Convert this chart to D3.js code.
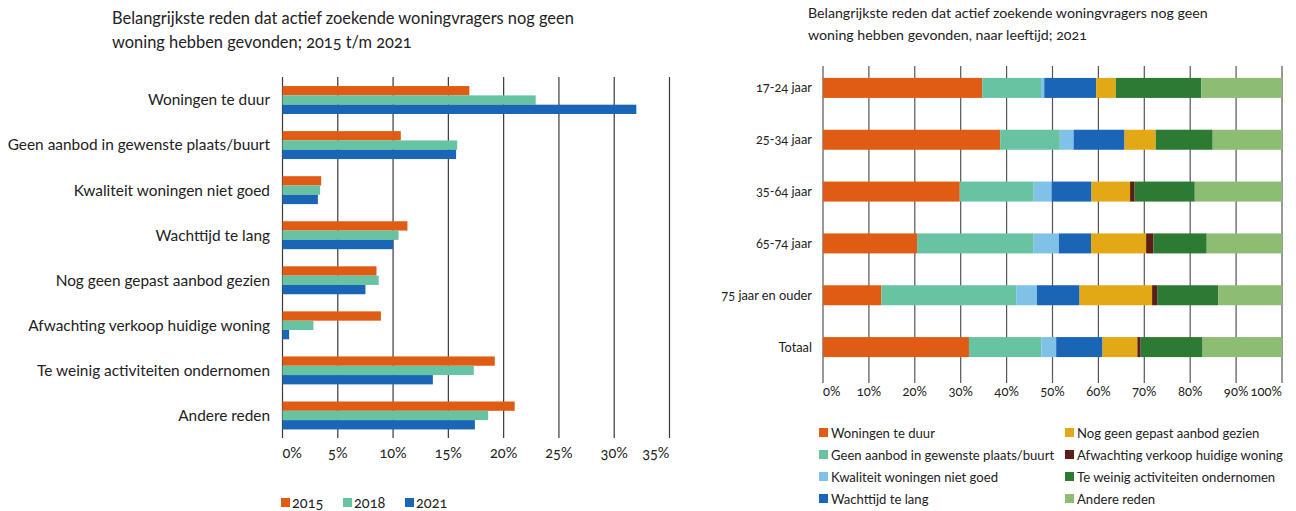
<!DOCTYPE html>
<html>
<head>
<meta charset="utf-8">
<script src="https://cdn.jsdelivr.net/npm/d3@7"></script>
<style>
  body { margin: 0; background: #fff; }
  svg { font-family: Lato, "Noto Sans", sans-serif; fill: #222; font-variant-numeric: oldstyle-nums; }
</style>
</head>
<body>
<svg id="chart" width="1296" height="511"></svg>
<script>
// reasons (same order in both charts)
const reasons = [
  'Woningen te duur',
  'Geen aanbod in gewenste plaats/buurt',
  'Kwaliteit woningen niet goed',
  'Wachttijd te lang',
  'Nog geen gepast aanbod gezien',
  'Afwachting verkoop huidige woning',
  'Te weinig activiteiten ondernomen',
  'Andere reden'
]
const years = ['2015', '2018', '2021']
const values2015 = [16.9, 10.7, 3.5, 11.3, 8.5, 8.9, 19.2, 21.0]
const values2018 = [22.9, 15.8, 3.4, 10.5, 8.7, 2.8, 17.3, 18.6]
const values2021 = [32.0, 15.7, 3.2, 10.0, 7.5, 0.6, 13.6, 17.4]
const leftTicks = [0, 5, 10, 15, 20, 25, 30, 35]

// right chart: shares per age group (%), in reasons order
const ageGroups = ['17-24 jaar', '25-34 jaar', '35-64 jaar', '65-74 jaar', '75 jaar en ouder', 'Totaal']
const shares1724 = [34.7, 12.8, 0.7, 11.3, 4.3, 0.0, 18.6, 17.6]
const shares2534 = [38.6, 13.0, 3.0, 11.1, 6.8, 0.0, 12.4, 15.1]
const shares3564 = [29.8, 16.1, 3.9, 8.7, 8.4, 1.0, 13.1, 19.0]
const shares6574 = [20.5, 25.4, 5.5, 7.0, 12.0, 1.6, 11.6, 16.4]
const shares75plus = [12.7, 29.4, 4.5, 9.3, 15.8, 1.1, 13.3, 13.9]
const sharesTotaal = [31.8, 15.8, 3.2, 10.1, 7.6, 0.7, 13.5, 17.3]
const rightTicks = [0, 10, 20, 30, 40, 50, 60, 70, 80, 90, 100]

const yearColors = ['#e05c14', '#68c3a2', '#1b65b6']
const reasonColors = ['#e05c14', '#68c3a2', '#80c1e8', '#1b65b6', '#e2a816', '#5a2017', '#2d7a33', '#8cbd72']

const svg = d3.select('#chart')

// ---------- left: grouped bars per year ----------
const left = svg.append('g')

left.append('text').attr('x', 112).attr('y', 24).style('font-size', '16.4px')
  .text('Belangrijkste reden dat actief zoekende woningvragers nog geen')
left.append('text').attr('x', 112).attr('y', 48).style('font-size', '16.4px')
  .text('woning hebben gevonden; 2015 t/m 2021')

const xL = d3.scaleLinear().domain([0, 35]).range([282.5, 669.5])
const yL = d3.scaleBand().domain(reasons).range([77.5, 438])
  .paddingInner(0.38).paddingOuter(0.19)
const yYear = d3.scaleBand().domain(years).range([0, yL.bandwidth()])

left.selectAll('.grid')
  .data(leftTicks)
  .enter().append('line')
  .attr('class', 'grid')
  .attr('x1', d => xL(d)).attr('x2', d => xL(d))
  .attr('y1', 77).attr('y2', 438)
  .attr('stroke', '#3a3a3a').attr('stroke-width', 1.2)

const leftRows = reasons.map((r, i) => ({
  reason: r,
  values: [values2015[i], values2018[i], values2021[i]]
}))

const groups = left.selectAll('.group')
  .data(leftRows)
  .enter().append('g')
  .attr('class', 'group')
  .attr('transform', d => 'translate(0,' + yL(d.reason) + ')')

groups.selectAll('rect')
  .data(d => d.values.map((v, j) => ({ year: years[j], v: v, c: yearColors[j] })))
  .enter().append('rect')
  .attr('x', xL(0))
  .attr('y', d => yYear(d.year))
  .attr('width', d => xL(d.v) - xL(0))
  .attr('height', yYear.bandwidth())
  .attr('fill', d => d.c)

left.selectAll('.cat')
  .data(reasons)
  .enter().append('text')
  .attr('class', 'cat')
  .attr('x', 270)
  .attr('y', d => yL(d) + yL.bandwidth() / 2)
  .attr('dy', '0.35em')
  .attr('text-anchor', 'end')
  .style('font-size', '15.4px')
  .text(d => d)

left.selectAll('.tick')
  .data(leftTicks)
  .enter().append('text')
  .attr('class', 'tick')
  .attr('x', d => xL(d))
  .attr('y', 458)
  .attr('text-anchor', (d, i) => i === 0 ? 'start' : (i === leftTicks.length - 1 ? 'end' : 'middle'))
  .style('font-size', '14.5px')
  .text(d => d + '%')

const legL = left.selectAll('.leg')
  .data(years)
  .enter().append('g')
  .attr('class', 'leg')
  .attr('transform', (d, i) => 'translate(' + (281 + i * 62) + ',498)')
legL.append('rect').attr('width', 9).attr('height', 9).attr('fill', (d, i) => yearColors[i])
legL.append('text').attr('x', 11).attr('y', 9.5).style('font-size', '14.5px').text(d => d)

// ---------- right: 100% stacked bars per age ----------
const right = svg.append('g')

right.append('text').attr('x', 808).attr('y', 18).style('font-size', '14.2px')
  .text('Belangrijkste reden dat actief zoekende woningvragers nog geen')
right.append('text').attr('x', 808).attr('y', 40).style('font-size', '14.2px')
  .text('woning hebben gevonden, naar leeftijd; 2021')

const shareLists = [shares1724, shares2534, shares3564, shares6574, shares75plus, sharesTotaal]
const rightRows = ageGroups.map((g, i) => {
  const row = { group: g }
  reasons.forEach((r, k) => { row[r] = shareLists[i][k] })
  return row
})
const stacked = d3.stack().keys(reasons)(rightRows)

const xR = d3.scaleLinear().domain([0, 100]).range([823, 1282])
const yR = d3.scaleBand().domain(ageGroups).range([62, 373])
  .paddingInner(0.614).paddingOuter(0.307)

right.selectAll('.grid')
  .data(rightTicks)
  .enter().append('line')
  .attr('class', 'grid')
  .attr('x1', d => xR(d)).attr('x2', d => xR(d))
  .attr('y1', 66).attr('y2', 383)
  .attr('stroke', '#555').attr('stroke-width', 1.2)

right.selectAll('.layer')
  .data(stacked)
  .enter().append('g')
  .attr('class', 'layer')
  .attr('fill', (d, i) => reasonColors[i])
  .selectAll('rect')
  .data(d => d)
  .enter().append('rect')
  .attr('x', d => xR(d[0]))
  .attr('y', d => yR(d.data.group))
  .attr('width', d => xR(d[1]) - xR(d[0]))
  .attr('height', yR.bandwidth())

right.selectAll('.cat')
  .data(ageGroups)
  .enter().append('text')
  .attr('class', 'cat')
  .attr('x', 812)
  .attr('y', d => yR(d) + yR.bandwidth() / 2)
  .attr('dy', '0.35em')
  .attr('text-anchor', 'end')
  .style('font-size', '12.8px')
  .text(d => d)

right.selectAll('.tick')
  .data(rightTicks)
  .enter().append('text')
  .attr('class', 'tick')
  .attr('x', d => xR(d))
  .attr('y', 396)
  .attr('text-anchor', (d, i) => i === 0 ? 'start' : (i === rightTicks.length - 1 ? 'end' : 'middle'))
  .style('font-size', '13px')
  .text(d => d + '%')

const legR = right.selectAll('.leg')
  .data(reasons)
  .enter().append('g')
  .attr('class', 'leg')
  .attr('transform', (d, i) => 'translate(' + (i < 4 ? 819 : 1065) + ',' + (428 + (i % 4) * 22) + ')')
legR.append('rect').attr('width', 9).attr('height', 9).attr('fill', (d, i) => reasonColors[i])
legR.append('text').attr('x', 12).attr('y', 9.5).style('font-size', '13.1px').text(d => d)
</script>
</body>
</html>
